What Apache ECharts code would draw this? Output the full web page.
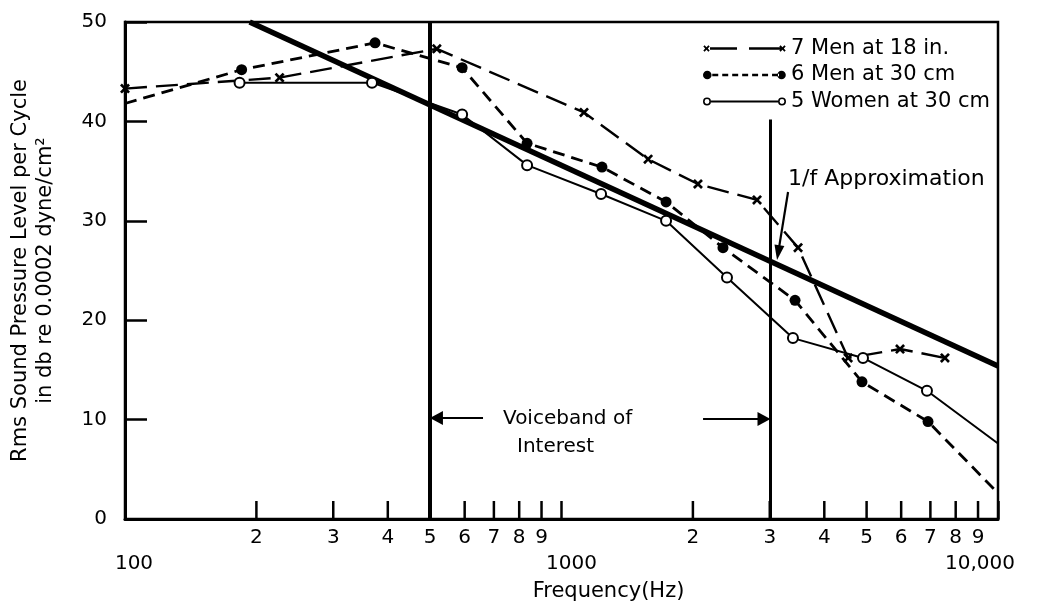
<!DOCTYPE html>
<html>
<head>
<meta charset="utf-8">
<script src="https://cdn.jsdelivr.net/npm/echarts@6/dist/echarts.min.js"></script>
<style>html,body{margin:0;padding:0;background:#fff}#c{width:1039px;height:605px}</style>
</head>
<body>
<div id="c"></div>
<script>
// ---- data ----
const men18Freq   = [100, 226, 518, 1126, 1579, 2054, 2805, 3483, 4535, 5964, 7558];
const men18Level  = [43.3, 44.4, 47.3, 40.9, 36.2, 33.7, 32.1, 27.3, 16.2, 17.1, 16.2];
const men30Freq   = [100, 185, 374, 592, 834, 1238, 1736, 2344, 3428, 4880, 6913, 10000];
const men30Level  = [41.8, 45.2, 47.9, 45.4, 37.8, 35.4, 31.9, 27.3, 22.0, 13.8, 9.8, 2.6];
const women30Freq = [183, 368, 592, 834, 1232, 1736, 2394, 3390, 4906, 6875, 10000];
const women30Level= [43.9, 43.9, 40.7, 35.6, 32.7, 30.0, 24.3, 18.2, 16.2, 12.9, 7.6];
const approxFreq  = [193, 10000];
const approxLevel = [50, 15.4];
const minorTickValues = [200,300,400,500,600,700,800,900,2000,3000,4000,5000,6000,7000,8000,9000];
const minorTickLabels = ['2','3','4','5','6','7','8','9','2','3','4','5','6','7','8','9'];
const decadeLabels = {100: '100', 1000: '1000', 10000: '10,000'};
const seriesNames = ['7 Men at 18 in.', '6 Men at 30 cm', '5 Women at 30 cm'];

// ---- helpers for symbols ----
function rect(x0,y0,x1,y1){return `M${x0} ${y0}L${x1} ${y0}L${x1} ${y1}L${x0} ${y1}Z`;}
function cross(cx,cy,h,t){
  const p=[[cx-h,cy-h+t],[cx-h+t,cy-h],[cx,cy-t],[cx+h-t,cy-h],[cx+h,cy-h+t],[cx+t,cy],
           [cx+h,cy+h-t],[cx+h-t,cy+h],[cx,cy+t],[cx-h+t,cy+h],[cx-h,cy+h-t],[cx-t,cy]];
  return 'M'+p.map(q=>q[0].toFixed(2)+' '+q[1].toFixed(2)).join('L')+'Z';
}
function disc(cx,cy,r,rev){const s=rev?1:0;return `M${cx-r} ${cy}A${r} ${r} 0 1 ${s} ${cx+r} ${cy}A${r} ${r} 0 1 ${s} ${cx-r} ${cy}Z`;}
const W = 83;
const anchors = `M0 0L0.01 0L0 0.01Z M${W} 10L${W-0.01} 10L${W} 9.99Z`;
let dashes2 = '';
for (let x = 9; x < 70; x += 10) dashes2 += rect(x, 3.8, x + 6, 6.2);
const iconMen18 = 'path://' + anchors + cross(3.5,5,3.2,1.3) + rect(7,3.8,34,6.2) + rect(46,3.8,78,6.2) + cross(79.5,5,3.2,1.3);
const iconMen30 = 'path://' + anchors + disc(4,5,4.3) + dashes2 + rect(71,3.8,76,6.2) + disc(78.5,5,4.3);
const iconWomen = 'path://' + anchors + disc(4,5,4) + disc(4,5,2.4,true) + rect(8,4.1,75,5.9) + disc(79,5,4) + disc(79,5,2.4,true);
const xSymbol = 'path://' + cross(5,5,5,1.9);

const FONT = 'DejaVu Sans';
const chart = echarts.init(document.getElementById('c'), null, {renderer: 'canvas'});

const pairs = (xs, ys) => xs.map((x, i) => [x, ys[i]]);
const edgeNoSymbol = (sym) => (v) => (v[0] <= 100 || v[0] >= 10000) ? 'none' : sym;

chart.setOption({
  animation: false,
  backgroundColor: '#fff',
  grid: {left: 125, right: 41, top: 22, bottom: 86, show: true, borderColor: '#000', borderWidth: 2.5,
         outerBoundsMode: 'none', containLabel: false},
  legend: {
    orient: 'vertical', left: 703, top: 38, padding: 0, itemGap: 5.5,
    itemWidth: W, itemHeight: 10, selectedMode: false,
    textStyle: {fontFamily: FONT, fontSize: 21, lineHeight: 21, color: '#000'},
    data: [
      {name: seriesNames[0], icon: iconMen18, itemStyle: {color: '#000', borderWidth: 0}},
      {name: seriesNames[1], icon: iconMen30, itemStyle: {color: '#000', borderWidth: 0}},
      {name: seriesNames[2], icon: iconWomen, itemStyle: {color: '#000', borderWidth: 0}}
    ]
  },
  xAxis: {
    type: 'log', logBase: 10, min: 100, max: 10000,
    axisLine: {lineStyle: {color: '#000', width: 3}},
    axisTick: {inside: true, length: 18, lineStyle: {color: '#000', width: 2.5}},
    splitLine: {show: false},
    axisLabel: {
      margin: 35, color: '#000', fontFamily: FONT, fontSize: 20, showMinLabel: true, showMaxLabel: true,
      formatter: (v) => {
        const r = Math.round(v);
        if (r === 100) return '{l|' + decadeLabels[100] + '}';
        if (r === 1000) return '{m|' + decadeLabels[1000] + '}';
        return '{r|' + decadeLabels[10000] + '}';
      },
      rich: {
        l: {fontFamily: FONT, fontSize: 20, color: '#000', padding: [0, 0, 0, 18]},
        m: {fontFamily: FONT, fontSize: 20, color: '#000', padding: [0, 0, 0, 20]},
        r: {fontFamily: FONT, fontSize: 20, color: '#000', padding: [0, 36, 0, 0]}
      }
    },
    name: 'Frequency(Hz)', nameLocation: 'middle', nameGap: 62,
    nameTextStyle: {fontFamily: FONT, fontSize: 21, color: '#000', padding: [0, 0, 0, 94]}
  },
  yAxis: {
    type: 'value', min: 0, max: 50, interval: 10,
    axisLine: {show: true, lineStyle: {color: '#000', width: 3}},
    axisTick: {show: true, inside: true, length: 22, lineStyle: {color: '#000', width: 2.5}},
    splitLine: {show: false},
    axisLabel: {margin: 18, color: '#000', fontFamily: FONT, fontSize: 20},
    name: 'Rms Sound Pressure Level per Cycle\nin db re 0.0002 dyne/cm\u00b2',
    nameLocation: 'middle', nameRotate: 90, nameGap: 67,
    nameTextStyle: {fontFamily: FONT, fontSize: 21, lineHeight: 25, color: '#000'}
  },
  graphic: [
    {type: 'text', x: 503, y: 419, style: {text: 'Voiceband of', font: '20px "DejaVu Sans"', fill: '#000', verticalAlign: 'middle'}},
    {type: 'text', x: 517, y: 447, style: {text: 'Interest', font: '20px "DejaVu Sans"', fill: '#000', verticalAlign: 'middle'}},
    {type: 'text', x: 788, y: 179, style: {text: '1/f Approximation', font: '22px "DejaVu Sans"', fill: '#000', verticalAlign: 'middle'}}
  ],
  series: [
    {
      name: '1/f Approximation', type: 'line', data: pairs(approxFreq, approxLevel),
      symbol: 'none', lineStyle: {color: '#000', width: 5.5}, z: 2, silent: true,
      markLine: {
        silent: true, symbol: ['none', 'none'], label: {show: false},
        lineStyle: {color: '#000', type: 'solid'},
        data: [
          {xAxis: 500, lineStyle: {width: 4, color: '#000', type: 'solid'}},
          [{coord: [3000, 0], lineStyle: {width: 3, color: '#000', type: 'solid'}}, {coord: [3000, 40.2]}],
          [{coord: [661, 10.16], symbol: 'none', lineStyle: {width: 2.2, color: '#000', type: 'solid'}},
           {coord: [517, 10.16], symbol: 'triangle', symbolSize: [14, 13]}],
          [{coord: [2110, 10.06], symbol: 'none', lineStyle: {width: 2.2, color: '#000', type: 'solid'}},
           {coord: [2910, 10.06], symbol: 'triangle', symbolSize: [14, 13]}],
          [{coord: [3304, 32.9], symbol: 'none', lineStyle: {width: 2.2, color: '#000', type: 'solid'}},
           {coord: [3137, 26.8], symbol: 'triangle', symbolSize: [10, 15]}]
        ]
      }
    },
    {
      name: seriesNames[0], type: 'line', data: pairs(men18Freq, men18Level),
      symbol: xSymbol, symbolSize: 10, showAllSymbol: true,
      lineStyle: {color: '#000', width: 2.4, type: [22, 9]}, itemStyle: {color: '#000'}, z: 3
    },
    {
      name: seriesNames[1], type: 'line', data: pairs(men30Freq, men30Level),
      symbol: edgeNoSymbol('circle'), symbolSize: 11, showAllSymbol: true,
      lineStyle: {color: '#000', width: 2.8, type: [12, 7]}, itemStyle: {color: '#000'}, z: 3
    },
    {
      name: seriesNames[2], type: 'line', data: pairs(women30Freq, women30Level),
      symbol: edgeNoSymbol('emptyCircle'), symbolSize: 10, showAllSymbol: true,
      lineStyle: {color: '#000', width: 2, type: 'solid'}, itemStyle: {color: '#000', borderWidth: 2.2}, z: 4
    },
    {
      name: 'minorTicks', type: 'custom', silent: true, clip: false, z: 5,
      data: minorTickValues.map((v, i) => [v, 0, i]),
      renderItem: (params, api) => {
        const p = api.coord([api.value(0), 0]);
        const lbl = minorTickLabels[api.value(2)];
        return {type: 'group', children: [
          {type: 'line', shape: {x1: p[0], y1: p[1], x2: p[0], y2: p[1] - 18}, style: {stroke: '#000', lineWidth: 2.5}},
          {type: 'text', x: p[0], y: p[1] + 19, style: {text: lbl, fill: '#000', font: '20px "DejaVu Sans"', align: 'center', verticalAlign: 'middle'}}
        ]};
      }
    }
  ]
});
</script>
</body>
</html>
